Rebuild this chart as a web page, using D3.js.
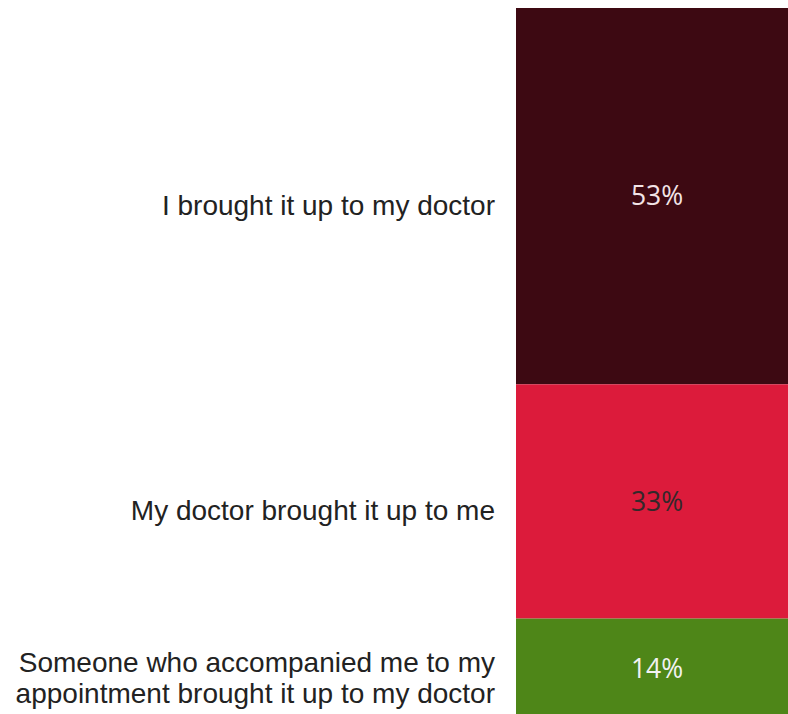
<!DOCTYPE html>
<html>
<head>
<meta charset="utf-8">
<script src="https://cdn.jsdelivr.net/npm/d3@7/dist/d3.min.js"></script>
<style>
  body { margin: 0; background: #fff; }
  .cat { font-family: "Liberation Sans", Arial, sans-serif; font-size: 28px; fill: #222; }
  .val { font-family: "Open Sans", sans-serif; font-size: 26.5px; }
</style>
</head>
<body>
<div id="vis"></div>
<script>
// Who raised the topic - one stacked column
var categories = ['I brought it up to my doctor', 'My doctor brought it up to me', 'Someone who accompanied me to my|appointment brought it up to my doctor'];
var values = [53, 33, 14];
var segColors = ['#3d0912', '#dc1b3b', '#4e8618'];
var labelColors = ['#f3e4e7', '#33282a', '#f2f2f2'];

var width = 788, height = 714;

var svg = d3.select('#vis').append('svg')
    .attr('width', width)
    .attr('height', height);

// Stack the values top-down
var rows = [];
var acc = 0;
values.forEach(function(v, i) {
    rows.push({ name: categories[i], value: v, y0: acc, y1: acc + v, i: i });
    acc += v;
});

var yScale = d3.scaleLinear().domain([0, 100]).range([8, 718]);
var xScale = d3.scaleBand().domain(['all']).range([516, 798]);

svg.selectAll('rect.seg').data(rows).enter().append('rect')
    .attr('class', 'seg')
    .attr('x', xScale('all'))
    .attr('width', xScale.bandwidth())
    .attr('y', function(d) { return yScale(d.y0); })
    .attr('height', function(d) { return yScale(d.y1) - yScale(d.y0); })
    .attr('fill', function(d) { return segColors[d.i]; });

// Percent labels in the middle of each segment
svg.selectAll('text.val').data(rows).enter().append('text')
    .attr('class', 'val')
    .attr('x', xScale('all') + xScale.bandwidth() / 2)
    .attr('y', function(d) { return (yScale(d.y0) + yScale(d.y1)) / 2; })
    .attr('dy', '0.35em')
    .attr('text-anchor', 'middle')
    .attr('fill', function(d) { return labelColors[d.i]; })
    .text(function(d) { return d.value + '%'; });

// Category labels on the left
var cats = svg.selectAll('text.cat').data(rows).enter().append('text')
    .attr('class', 'cat')
    .attr('text-anchor', 'end')
    .attr('transform', function(d) {
        return 'translate(495,' + ((yScale(d.y0) + yScale(d.y1)) / 2 + 9) + ')';
    });

cats.each(function(d) {
    var lines = d.name.split('|');
    var t = d3.select(this);
    lines.forEach(function(line, k) {
        t.append('tspan')
            .attr('x', 0)
            .attr('y', (k - (lines.length - 1) / 2) * 31)
            .attr('dy', '0.35em')
            .text(line);
    });
});
</script>
</body>
</html>
